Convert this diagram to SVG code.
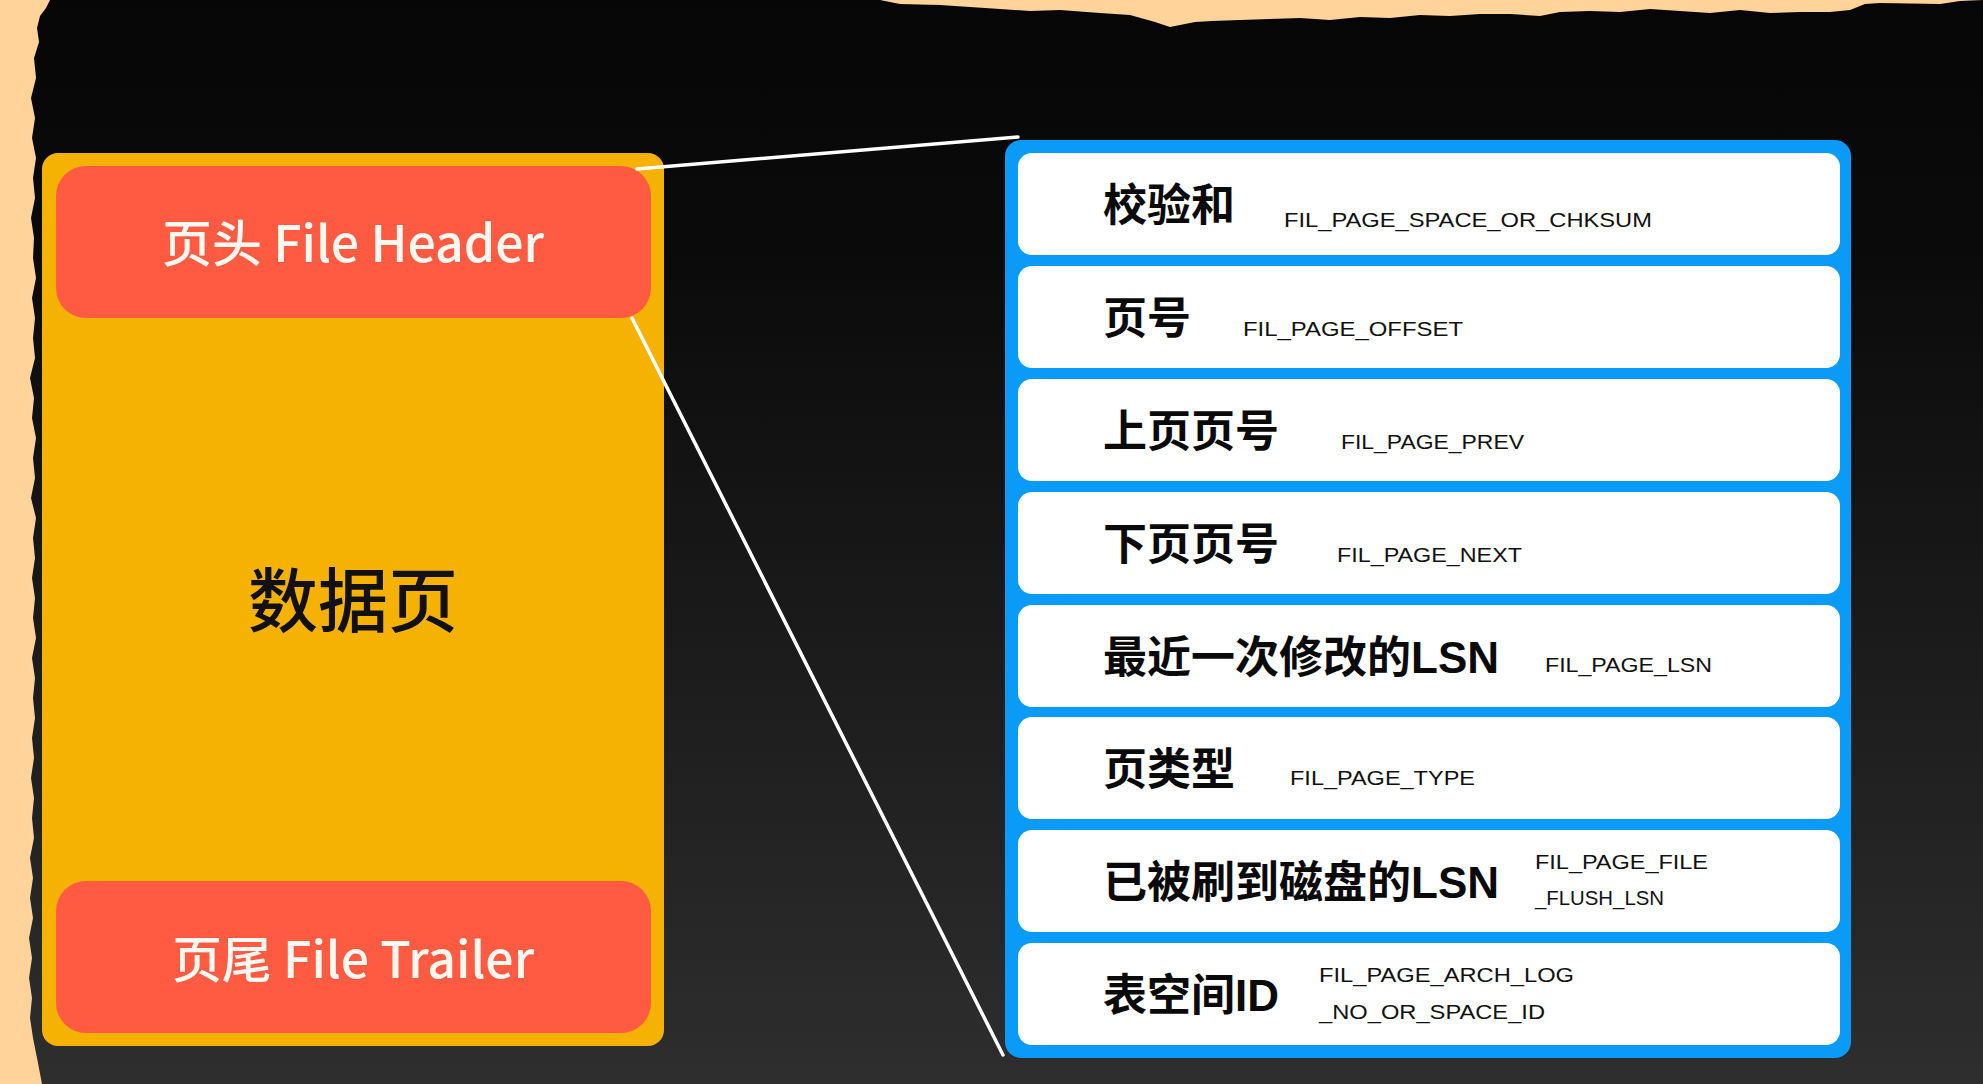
<svg xmlns="http://www.w3.org/2000/svg" width="1983" height="1084" viewBox="0 0 1983 1084">
  <defs>
    <linearGradient id="bg" x1="0" y1="0" x2="0" y2="1">
      <stop offset="0" stop-color="#060606"/>
      <stop offset="0.25" stop-color="#0b0b0b"/>
      <stop offset="1" stop-color="#2e2e2e"/>
    </linearGradient>
    <style>
      .peach { fill: #FFD39A; }
      .page { fill: #F5B203; }
      .part { fill: #FF5B42; }
      .partText { font-family: "Noto Sans CJK SC", "Noto Sans", sans-serif; font-weight: 500; font-size: 50px; fill: #FFF8F0; text-anchor: middle; }
      .pageText { font-family: "Noto Sans CJK SC", sans-serif; font-weight: 500; font-size: 70px; fill: #111; text-anchor: middle; }
      .frame { fill: #0A9AF7; }
      .row { fill: #FFFFFF; }
      .label { font-family: "Liberation Sans", "Noto Sans CJK SC", sans-serif; font-weight: 700; font-size: 44px; fill: #0a0a0a; }
      .code { font-family: "Liberation Sans", sans-serif; font-size: 21px; fill: #111; }
      .conn { stroke: #FFFFFF; stroke-width: 3.5; fill: none; stroke-linecap: round; }
    </style>
  </defs>

  <rect x="0" y="0" width="1983" height="1084" fill="url(#bg)"/>

  <!-- torn paper edges -->
  <path class="peach" d="M0,0 L50,0 L46,8 L40,16 L37,28 L39,42 L34,58 L36,78 L31,98 L35,118 L32,138 L36,158 L33,178 L35,198 L31,218 L34,238 L33,258 L36,278 L32,298 L35,318 L33,338 L35,358 L30,378 L34,398 L32,418 L36,438 L33,458 L35,478 L31,498 L36,518 L33,538 L35,558 L32,578 L35,598 L33,618 L36,638 L32,658 L35,678 L33,698 L35,718 L32,738 L34,758 L31,778 L34,798 L32,818 L34,838 L30,858 L33,878 L30,898 L33,918 L29,938 L32,958 L29,978 L32,998 L30,1018 L33,1038 L37,1058 L42,1084 L0,1084 Z"/>
  <path class="peach" d="M880,0 L900,4 L940,5 L970,7 L1000,9 L1030,11 L1060,10 L1100,13 L1130,15 L1155,22 L1170,27 L1180,25 L1195,22 L1212,21 L1240,20 L1270,19 L1300,18 L1330,20 L1360,17 L1390,18 L1420,15 L1450,16 L1480,14 L1510,14 L1540,16 L1560,12 L1590,11 L1620,12 L1650,9 L1680,11 L1710,13 L1740,10 L1770,13 L1800,12 L1830,12 L1850,10 L1865,4 L1880,3 L1940,4 L1960,1 L1983,0 Z"/>

  <!-- data page -->
  <g id="data-page">
    <rect class="page" x="42" y="153" width="622" height="893" rx="16"/>
    <text class="pageText" x="353" y="627">数据页</text>
  </g>
  <g id="file-header">
    <rect class="part" x="56" y="166" width="595" height="152" rx="30"/>
    <text class="partText" x="353" y="262">页头 File Header</text>
  </g>
  <g id="file-trailer">
    <rect class="part" x="56" y="881" width="595" height="152" rx="30"/>
    <text class="partText" x="353" y="978">页尾 File Trailer</text>
  </g>

  <!-- header detail -->
  <g id="header-detail">
    <rect class="frame" x="1005" y="140" width="846" height="918" rx="16"/>
  </g>
  <g id="row-checksum">
    <rect class="row" x="1018" y="153" width="822" height="102" rx="14"/>
    <text class="label" x="1103" y="221">校验和</text>
    <text class="code" x="1284" y="227" textLength="368" lengthAdjust="spacingAndGlyphs">FIL_PAGE_SPACE_OR_CHKSUM</text>
  </g>
  <g id="row-offset">
    <rect class="row" x="1018" y="266" width="822" height="102" rx="14"/>
    <text class="label" x="1103" y="334">页号</text>
    <text class="code" x="1243" y="336" textLength="220" lengthAdjust="spacingAndGlyphs">FIL_PAGE_OFFSET</text>
  </g>
  <g id="row-prev">
    <rect class="row" x="1018" y="379" width="822" height="102" rx="14"/>
    <text class="label" x="1103" y="447">上页页号</text>
    <text class="code" x="1341" y="449" textLength="183" lengthAdjust="spacingAndGlyphs">FIL_PAGE_PREV</text>
  </g>
  <g id="row-next">
    <rect class="row" x="1018" y="492" width="822" height="102" rx="14"/>
    <text class="label" x="1103" y="560">下页页号</text>
    <text class="code" x="1337" y="562" textLength="185" lengthAdjust="spacingAndGlyphs">FIL_PAGE_NEXT</text>
  </g>
  <g id="row-lsn">
    <rect class="row" x="1018" y="605" width="822" height="102" rx="14"/>
    <text class="label" x="1103" y="673">最近一次修改的LSN</text>
    <text class="code" x="1545" y="672" textLength="167" lengthAdjust="spacingAndGlyphs">FIL_PAGE_LSN</text>
  </g>
  <g id="row-type">
    <rect class="row" x="1018" y="717" width="822" height="102" rx="14"/>
    <text class="label" x="1103" y="785">页类型</text>
    <text class="code" x="1290" y="785" textLength="185" lengthAdjust="spacingAndGlyphs">FIL_PAGE_TYPE</text>
  </g>
  <g id="row-flush-lsn">
    <rect class="row" x="1018" y="830" width="822" height="102" rx="14"/>
    <text class="label" x="1103" y="898">已被刷到磁盘的LSN</text>
    <text class="code" x="1535" y="869" textLength="173" lengthAdjust="spacingAndGlyphs">FIL_PAGE_FILE</text>
    <text class="code" x="1535" y="905" textLength="129" lengthAdjust="spacingAndGlyphs">_FLUSH_LSN</text>
  </g>
  <g id="row-space-id">
    <rect class="row" x="1018" y="943" width="822" height="102" rx="14"/>
    <text class="label" x="1103" y="1011">表空间ID</text>
    <text class="code" x="1319" y="982" textLength="255" lengthAdjust="spacingAndGlyphs">FIL_PAGE_ARCH_LOG</text>
    <text class="code" x="1319" y="1019" textLength="226" lengthAdjust="spacingAndGlyphs">_NO_OR_SPACE_ID</text>
  </g>

  <!-- connectors -->
  <g id="connectors">
    <line class="conn" x1="637" y1="169" x2="1018" y2="137"/>
    <line class="conn" x1="632" y1="318" x2="1003" y2="1055"/>
  </g>
</svg>
